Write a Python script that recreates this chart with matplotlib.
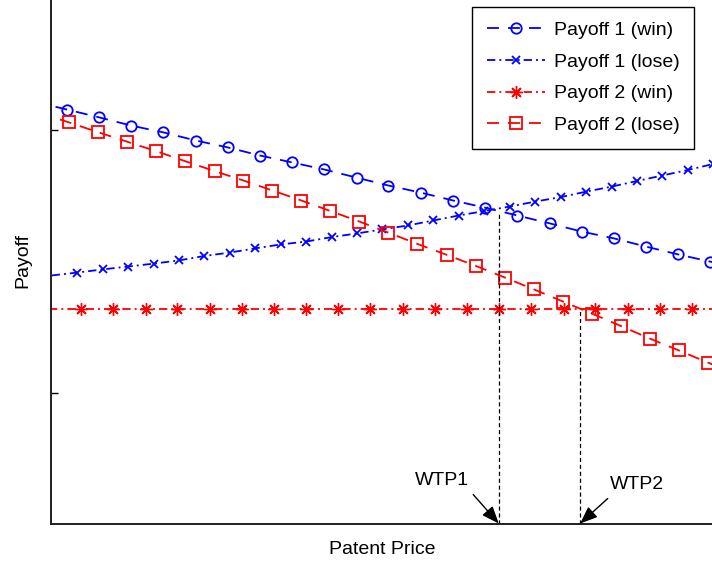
import matplotlib
matplotlib.use("Agg")
import matplotlib.pyplot as plt

plt.rcParams['font.family'] = ['Liberation Sans', 'DejaVu Sans']
plt.rcParams['lines.scale_dashes'] = False

# ---- data (price on x, payoff on y) ----
p1_win_x = [-2.3, 2.3, 7.0, 11.6, 16.3, 21.0, 25.6, 30.3, 34.9, 39.6, 44.3, 48.9,
            53.6, 58.3, 62.9, 67.6, 72.3, 76.9, 81.6, 86.2, 90.9, 95.5, 100.2]
p1_win_y = [110.5, 107.6, 104.6, 101.5, 98.9, 95.8, 93.2, 90.1, 87.5, 84.8, 81.7, 78.7,
            76.0, 73.0, 70.3, 67.3, 64.3, 61.2, 58.6, 55.5, 52.5, 49.8, 46.8]

p1_lose_x = [0.1, 3.8, 7.5, 11.2, 14.9, 18.5, 22.2, 25.9, 29.6, 33.3, 37.0, 40.7, 44.4,
             48.0, 51.7, 55.4, 59.1, 62.8, 66.5, 70.2, 73.9, 77.6, 81.3, 84.9, 88.6, 92.3, 96.0]
p1_lose_y = [44.5, 45.6, 46.8, 47.9, 49.0, 50.2, 51.9, 53.2, 54.8, 56.3, 57.4, 59.1, 60.5,
             62.0, 63.5, 65.4, 67.3, 69.0, 70.7, 72.6, 74.3, 76.4, 78.3, 80.4, 82.5, 84.6, 86.9]

p2_win_x = [-0.3, 4.4, 9.0, 13.7, 18.3, 23.0, 27.7, 32.3, 37.0, 41.6, 46.3, 51.0,
            55.6, 60.3, 65.0, 69.6, 74.3, 78.9, 83.6, 88.3, 92.9, 97.6]
p2_win_y = [31.6] * len(p2_win_x)

p2_lose_x = [-1.6, 2.6, 6.8, 11.0, 15.2, 19.4, 23.7, 27.9, 32.1, 36.3, 40.5, 44.7, 48.9,
             53.1, 57.4, 61.6, 65.8, 70.0, 74.2, 78.4, 82.6, 86.8, 91.0, 95.2, 99.5]
p2_lose_y = [106.3, 102.7, 99.0, 95.4, 91.8, 88.0, 84.2, 80.6, 76.8, 73.0, 69.0, 65.0, 60.8,
             56.5, 52.3, 48.1, 43.7, 39.2, 34.6, 30.0, 25.3, 20.5, 16.0, 11.4, 6.7]

labels = ['Payoff 1 (win)', 'Payoff 1 (lose)', 'Payoff 2 (win)', 'Payoff 2 (lose)']

wtp_x = [64.9, 76.7]
wtp_top = [68.8, 31.6]
wtp_labels = ['WTP1', 'WTP2']
wtp_text_xy = [(56.7, -33.5), (84.9, -35.0)]
wtp_tail_xy = [(61.2, -38.8), (80.7, -40.3)]

XMIN, XMAX = 0, 96.1
YMIN, YMAX = -50, 150

# ---- figure ----
W, H = 712, 562
fig = plt.figure(figsize=(W / 100, H / 100), dpi=100)
ax = fig.add_axes([51 / W, (H - 524) / H, 663 / W, 526 / H])

blue = (0, 0, 1)
red = (1, 0, 0)
lw = 1.3
dash = (8.6, 6.5)
dashdot = (6.0, 2.9, 1.4, 2.9)

ax.plot(p1_win_x, p1_win_y, color=blue, lw=lw, dashes=dash, marker='o', ms=7.5,
        mfc='none', mew=lw, markevery=slice(1, None), label=labels[0])
ax.plot(p1_lose_x, p1_lose_y, color=blue, lw=lw, dashes=dashdot, marker='x', ms=5.5,
        mew=lw, markevery=slice(1, None), label=labels[1])
ax.plot(p2_win_x, p2_win_y, color=red, lw=lw, dashes=dashdot, marker=(8, 2, 0), ms=9,
        mew=1.0, markevery=slice(1, None), label=labels[2])
ax.plot(p2_lose_x, p2_lose_y, color=red, lw=lw, dashes=dash, marker='s', ms=8,
        mfc='none', mew=lw, markevery=slice(1, None), label=labels[3])

for x, top in zip(wtp_x, wtp_top):
    ax.plot([x, x], [YMIN, top], color='k', lw=0.9, dashes=(3, 2))

for lab, txy, tail, x in zip(wtp_labels, wtp_text_xy, wtp_tail_xy, wtp_x):
    ax.text(txy[0], txy[1], lab, fontsize=14, ha='center', va='center')
    ax.annotate('', xy=(x, YMIN + 0.2), xytext=tail,
                arrowprops=dict(arrowstyle='-|>,head_length=0.75,head_width=0.3',
                                color='k', lw=1.0, mutation_scale=14,
                                shrinkA=0, shrinkB=0))

ax.set_xlim(XMIN, XMAX)
ax.set_ylim(YMIN, YMAX)
ax.set_yticks([0, 100])
ax.set_xticks([])
ax.tick_params(axis='y', direction='in', length=5, width=1.0, labelleft=False)
for s in ['top', 'right']:
    ax.spines[s].set_visible(False)
for s in ['left', 'bottom']:
    ax.spines[s].set_linewidth(1.4)
    ax.spines[s].set_color('#202020')

ax.set_xlabel('Patent Price', fontsize=14, va='top')
ax.xaxis.set_label_coords(0.5, -0.0323)
ax.set_ylabel('Payoff', fontsize=14)
ax.yaxis.set_label_coords(-0.0302, 0.5)

leg = ax.legend(loc='upper right', bbox_to_anchor=(694 / W, 1 - 7 / H),
                bbox_transform=fig.transFigure, borderaxespad=0, fontsize=14,
                handlelength=3.0, handletextpad=0.45, labelspacing=0.72,
                borderpad=0.75, fancybox=False, framealpha=1, numpoints=1)
leg.get_frame().set_edgecolor('k')
leg.get_frame().set_linewidth(1.0)

fig.savefig('out.png', dpi=100)
